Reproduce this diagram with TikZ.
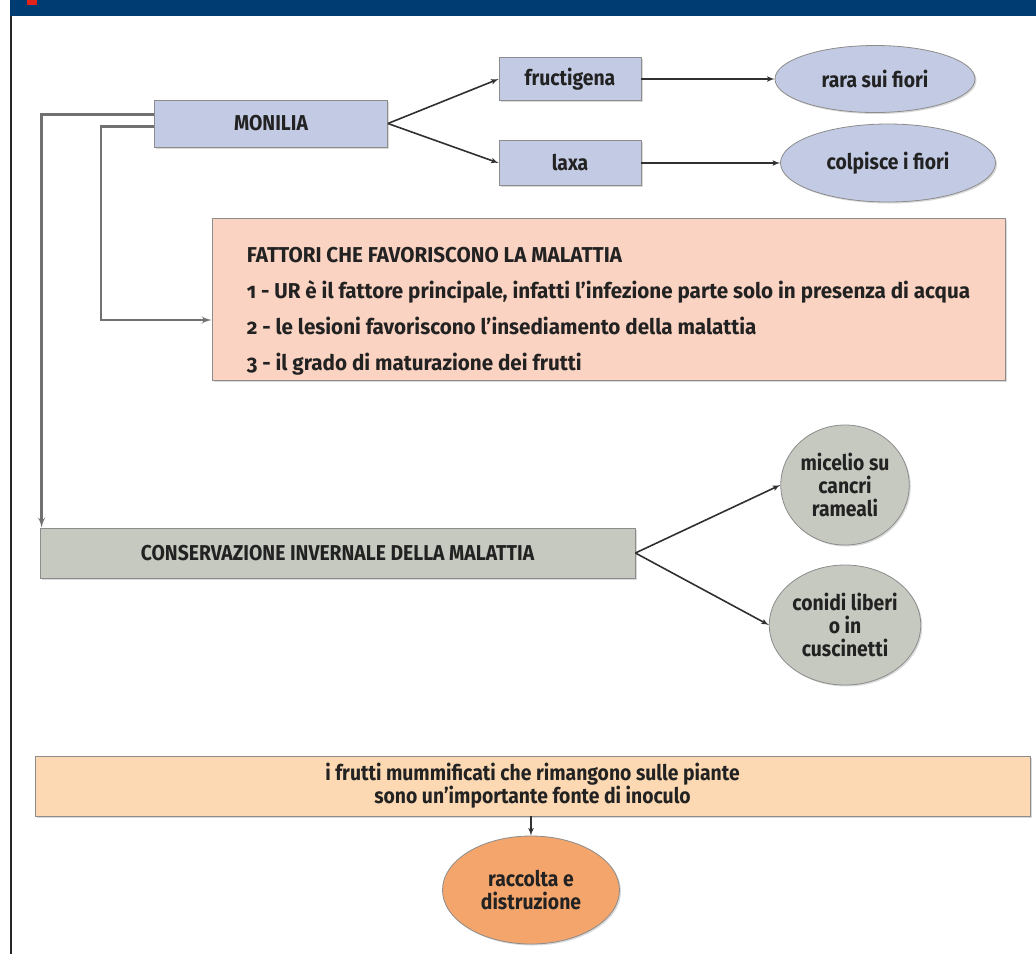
\documentclass[tikz,border=0pt]{standalone}
\usepackage{fontspec}
\setmainfont{Fira Sans}[FakeStretch=0.9,Numbers=OldStyle]
\usetikzlibrary{shapes,arrows,positioning,shadows}

\definecolor{bluBarra}{HTML}{003B71}
\definecolor{rosso}{HTML}{E2231A}
\definecolor{lilla}{HTML}{C3CBE4}
\definecolor{salmone}{HTML}{FAD3C2}
\definecolor{grigioVerde}{HTML}{C5C9BF}
\definecolor{pesca}{HTML}{FCD9B3}
\definecolor{arancio}{HTML}{F4A56C}
\definecolor{bordo}{HTML}{8C8C8C}
\definecolor{freccia}{HTML}{303030}
\definecolor{ramoGrigio}{HTML}{717171}
\definecolor{testo}{HTML}{222222}

\newcommand{\etich}{\bfseries\fontsize{21.5}{23}\selectfont}
\newcommand{\fattfont}{\bfseries\fontsize{21.5}{36}\selectfont\addfontfeatures{FakeStretch=0.96}}

\tikzstyle{box} = [draw=bordo, rectangle, fill=lilla, line width=0.8pt, text=testo, font=\etich, text centered, minimum height=44pt, drop shadow={shadow xshift=1.5pt, shadow yshift=-1.5pt, opacity=0.3}]
\tikzstyle{ovale} = [box, ellipse, inner sep=1pt, align=center]
\tikzstyle{line} = [draw, line width=1.6pt, color=freccia, -latex']
\tikzstyle{ramo} = [draw, line width=2.4pt, color=ramoGrigio, -latex']

\begin{document}
\begin{tikzpicture}[x=1pt, y=-1pt, auto, node distance=310pt]
	\useasboundingbox (0,0) rectangle (1036,954);
	% testata
	\fill[bluBarra] (10,0) rectangle (1036,16);
	\fill[rosso] (27,0) rectangle (37,5);
	\draw[line width=2pt, black!85] (11,16) -- (11,954);

	\node[box, minimum width=233pt, minimum height=47pt] (monilia) at (271,123.5) {MONILIA};
	\node[box, minimum width=142pt, minimum height=43pt] (fruct) at (570,79) {fructigena};
	\node[box, minimum width=142pt, minimum height=45pt, below of=fruct, node distance=84pt] (laxa) {laxa};
	\node[ovale, minimum width=200pt, minimum height=67pt, right of=fruct, node distance=305pt] (rara) {rara sui fiori};
	\node[ovale, minimum width=215pt, minimum height=78pt, right of=laxa, node distance=318pt] (colp) {colpisce i fiori};

	\node[box, fill=salmone, minimum width=793pt, minimum height=162pt, align=left, font=\fattfont] (fattori) at (608.5,299) {\rule{0pt}{40pt}FATTORI CHE FAVORISCONO LA MALATTIA\\1 - UR è il fattore principale, infatti l’infezione parte solo in presenza di acqua\\2 - le lesioni favoriscono l’insediamento della malattia\\3 - il grado di maturazione dei frutti};

	\node[box, fill=grigioVerde, minimum width=595pt, minimum height=50pt] (cons) at (337.5,553) {CONSERVAZIONE INVERNALE DELLA MALATTIA};
	\node[ovale, fill=grigioVerde, minimum width=126pt, minimum height=120pt] (micelio) at (845,485) {micelio su\\cancri\\rameali};
	\node[ovale, fill=grigioVerde, minimum width=126pt, minimum height=120pt, below of=micelio, node distance=140pt] (conidi) {conidi liberi\\o in\\cuscinetti};

	\node[box, fill=pesca, minimum width=995pt, minimum height=60pt, align=center] (mummie) at (532.5,786) {i frutti mummificati che rimangono sulle piante\\sono un’importante fonte di inoculo};
	\node[ovale, fill=arancio, minimum width=177pt, minimum height=108pt] (raccolta) at (531,890) {raccolta e\\distruzione};

	\path [line] (monilia.east) -- (fruct.west);
	\path [line] (monilia.east) -- (laxa.west);
	\path [line] (fruct) -- (rara);
	\path [line] (laxa) -- (colp);
	\path [line] (cons.east) -- (micelio.west);
	\path [line] (cons.east) -- (conidi.west);
	\path [line] (mummie.south -| raccolta.north) -- (raccolta);

	\coordinate (gomito) at (101,320);
	\path [ramo] ([yshift=9pt]monilia.west) -| ([xshift=2pt]cons.north west);
	\path [ramo] ([yshift=-3pt]monilia.west) -| (gomito) -- (gomito -| fattori.west);
\end{tikzpicture}
\end{document}
